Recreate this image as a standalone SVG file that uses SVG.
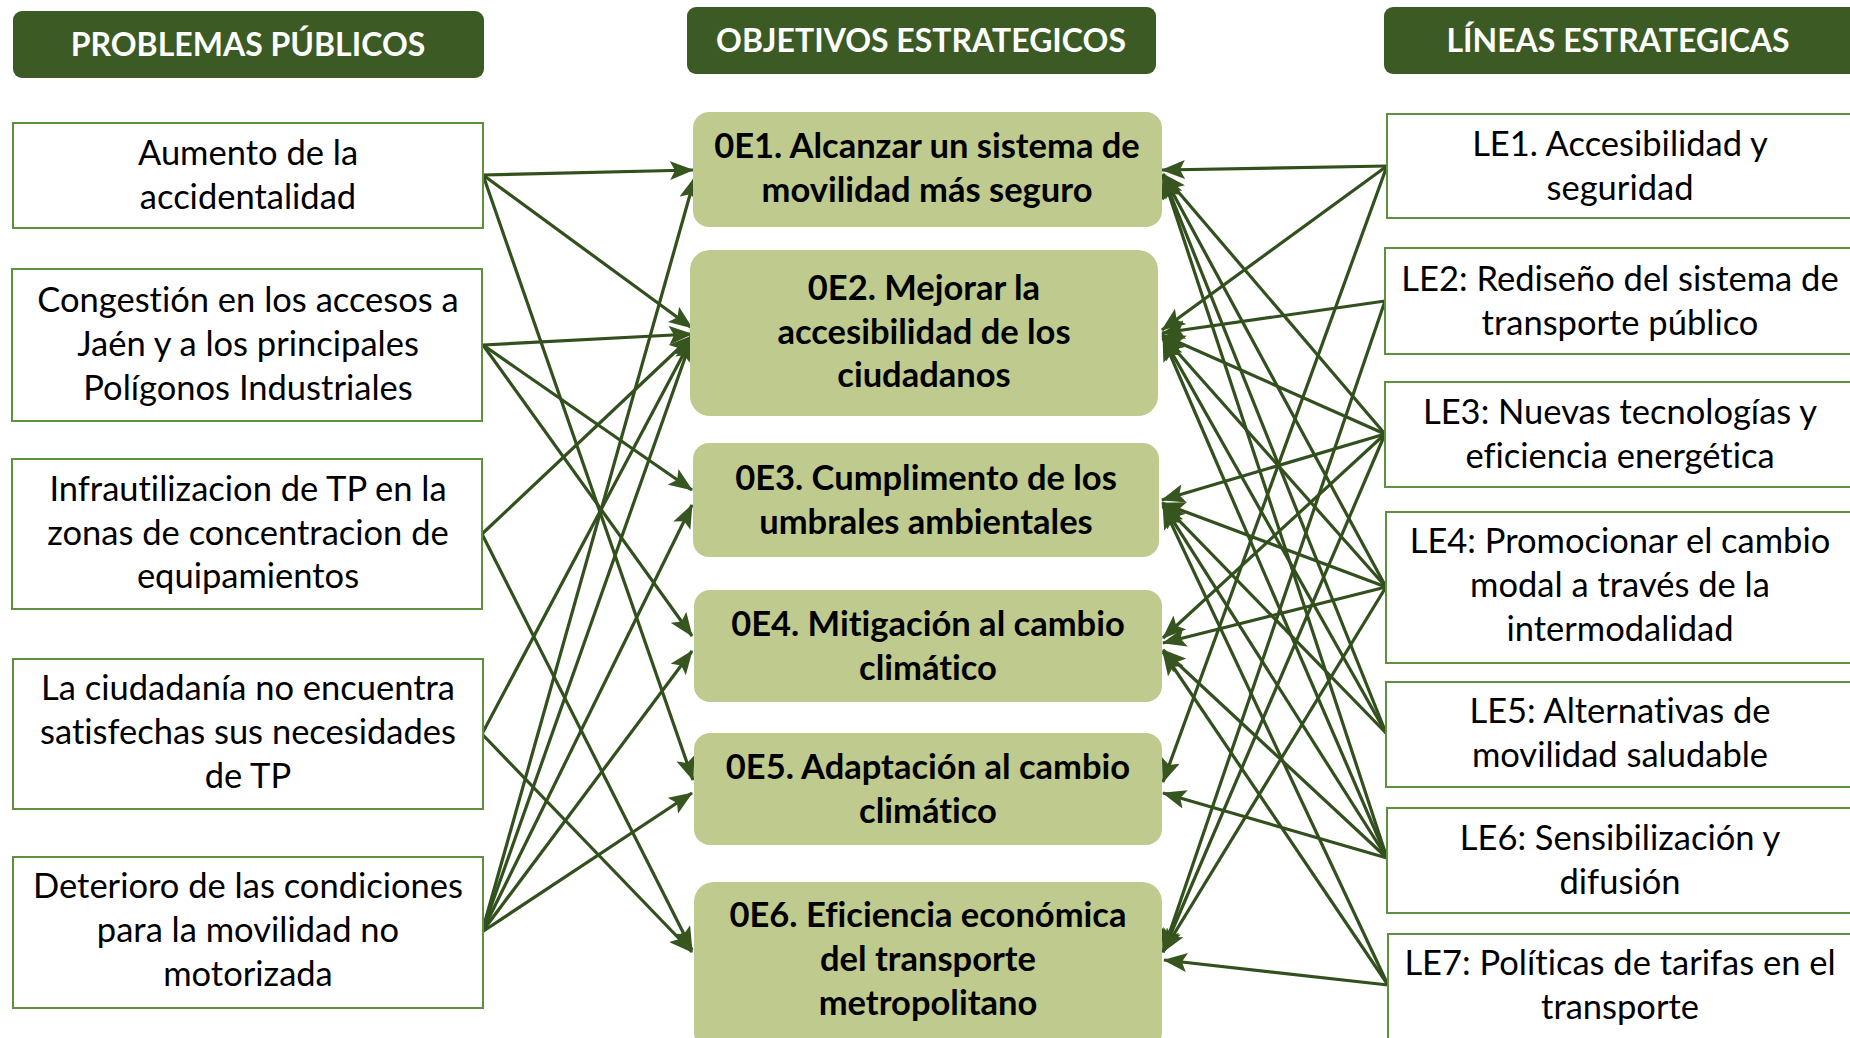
<svg xmlns="http://www.w3.org/2000/svg" width="1850" height="1038" viewBox="0 0 1850 1038">
<defs>
<marker id="ah" markerUnits="userSpaceOnUse" markerWidth="24" markerHeight="19" viewBox="0 0 24 19" refX="23" refY="9.5" orient="auto">
<path d="M0,0 L24,9.5 L0,19 L5,9.5 z" fill="#37561f"/>
</marker>
<style>
.hdr{fill:#3b5a24}
.ht{font-family:Lato,"Liberation Sans",sans-serif;font-weight:bold;font-size:32px;fill:#fff;text-anchor:middle}
.pb{fill:#fff;stroke:#5f9040;stroke-width:2}
.oe{fill:#bfca8e}
.t{font-family:Lato,"Liberation Sans",sans-serif;font-size:34.5px;fill:#000;text-anchor:middle;font-variant-ligatures:none;font-feature-settings:"liga" 0}
.b{font-weight:bold}
.c line{stroke:#32501d;stroke-width:3.2;marker-end:url(#ah)}
</style>
</defs>
<rect width="1850" height="1038" fill="#fff"/>

<g id="h-problemas"><rect class="hdr" x="13" y="11" width="471" height="67" rx="9"/><text class="ht" x="248" y="56">PROBLEMAS PÚBLICOS</text></g>
<g id="h-objetivos"><rect class="hdr" x="687" y="7" width="469" height="67" rx="9"/><text class="ht" x="921" y="52">OBJETIVOS ESTRATEGICOS</text></g>
<g id="h-lineas"><rect class="hdr" x="1384" y="7" width="480" height="67" rx="9"/><text class="ht" x="1618" y="52">LÍNEAS ESTRATEGICAS</text></g>

<g class="c" id="connectors">
<line x1="483" y1="175" x2="693" y2="170"/>
<line x1="483" y1="175" x2="692" y2="328"/>
<line x1="483" y1="175" x2="693" y2="780"/>
<line x1="483" y1="345" x2="692" y2="334"/>
<line x1="483" y1="345" x2="692" y2="490"/>
<line x1="483" y1="345" x2="692" y2="636"/>
<line x1="482" y1="534" x2="692" y2="336"/>
<line x1="482" y1="534" x2="692" y2="950"/>
<line x1="482" y1="734" x2="692" y2="338"/>
<line x1="482" y1="734" x2="692" y2="952"/>
<line x1="482" y1="932" x2="695" y2="177"/>
<line x1="482" y1="932" x2="692" y2="338"/>
<line x1="482" y1="932" x2="692" y2="505"/>
<line x1="482" y1="932" x2="692" y2="651"/>
<line x1="482" y1="932" x2="692" y2="793"/>

<line x1="1387" y1="166" x2="1162" y2="170"/>
<line x1="1387" y1="166" x2="1162" y2="330"/>
<line x1="1387" y1="166" x2="1163" y2="782"/>
<line x1="1385" y1="301" x2="1162" y2="333"/>
<line x1="1385" y1="301" x2="1163" y2="952"/>
<line x1="1385" y1="434" x2="1163" y2="174"/>
<line x1="1385" y1="434" x2="1162" y2="335"/>
<line x1="1385" y1="434" x2="1162" y2="500"/>
<line x1="1385" y1="434" x2="1163" y2="638"/>
<line x1="1385" y1="434" x2="1163" y2="952"/>
<line x1="1386" y1="587" x2="1163" y2="175"/>
<line x1="1386" y1="587" x2="1163" y2="336"/>
<line x1="1386" y1="587" x2="1162" y2="503"/>
<line x1="1386" y1="587" x2="1163" y2="643"/>
<line x1="1386" y1="587" x2="1163" y2="952"/>
<line x1="1386" y1="733" x2="1163" y2="176"/>
<line x1="1386" y1="733" x2="1163" y2="337"/>
<line x1="1386" y1="733" x2="1163" y2="504"/>
<line x1="1387" y1="858" x2="1163" y2="176"/>
<line x1="1387" y1="858" x2="1163" y2="338"/>
<line x1="1387" y1="858" x2="1163" y2="505"/>
<line x1="1387" y1="858" x2="1163" y2="650"/>
<line x1="1387" y1="858" x2="1163" y2="793"/>
<line x1="1388" y1="985" x2="1163" y2="506"/>
<line x1="1388" y1="985" x2="1163" y2="652"/>
<line x1="1388" y1="985" x2="1164" y2="960"/>
</g>

<g id="pp1"><rect class="pb" x="13" y="123" width="470" height="105"/><text class="t" x="248" y="165">Aumento de la</text><text class="t" x="248" y="209">accidentalidad</text></g>
<g id="pp2"><rect class="pb" x="12" y="269" width="470" height="152"/><text class="t" x="248" y="312">Congestión en los accesos a</text><text class="t" x="248" y="356">Jaén y a los principales</text><text class="t" x="248" y="400">Polígonos Industriales</text></g>
<g id="pp3"><rect class="pb" x="12" y="459" width="470" height="150"/><text class="t" x="248" y="501">Infrautilizacion de TP en la</text><text class="t" x="248" y="545">zonas de concentracion de</text><text class="t" x="248" y="588">equipamientos</text></g>
<g id="pp4"><rect class="pb" x="13" y="659" width="470" height="150"/><text class="t" x="248" y="700">La ciudadanía no encuentra</text><text class="t" x="248" y="744">satisfechas sus necesidades</text><text class="t" x="248" y="788">de TP</text></g>
<g id="pp5"><rect class="pb" x="13" y="857" width="470" height="151"/><text class="t" x="248" y="898">Deterioro de las condiciones</text><text class="t" x="248" y="942">para la movilidad no</text><text class="t" x="248" y="986">motorizada</text></g>

<g id="oe1"><rect class="oe" x="693" y="112" width="469" height="115" rx="16"/><text class="t b" x="927" y="158">0E1. Alcanzar un sistema de</text><text class="t b" x="927" y="202">movilidad más seguro</text></g>
<g id="oe2"><rect class="oe" x="690" y="250" width="468" height="166" rx="20"/><text class="t b" x="924" y="300">0E2. Mejorar la</text><text class="t b" x="924" y="344">accesibilidad de los</text><text class="t b" x="924" y="387">ciudadanos</text></g>
<g id="oe3"><rect class="oe" x="693" y="443" width="466" height="114" rx="16"/><text class="t b" x="926" y="490">0E3. Cumplimento de los</text><text class="t b" x="926" y="534">umbrales ambientales</text></g>
<g id="oe4"><rect class="oe" x="694" y="590" width="468" height="112" rx="16"/><text class="t b" x="928" y="636">0E4. Mitigación al cambio</text><text class="t b" x="928" y="680">climático</text></g>
<g id="oe5"><rect class="oe" x="694" y="733" width="468" height="112" rx="16"/><text class="t b" x="928" y="779">0E5. Adaptación al cambio</text><text class="t b" x="928" y="823">climático</text></g>
<g id="oe6"><rect class="oe" x="694" y="882" width="468" height="170" rx="20"/><text class="t b" x="928" y="927">0E6. Eficiencia económica</text><text class="t b" x="928" y="971">del transporte</text><text class="t b" x="928" y="1015">metropolitano</text></g>

<g id="le1"><rect class="pb" x="1387" y="114" width="475" height="104"/><text class="t" x="1620" y="156">LE1. Accesibilidad y</text><text class="t" x="1620" y="200">seguridad</text></g>
<g id="le2"><rect class="pb" x="1385" y="248" width="477" height="106"/><text class="t" x="1620" y="291">LE2: Rediseño del sistema de</text><text class="t" x="1620" y="335">transporte público</text></g>
<g id="le3"><rect class="pb" x="1385" y="382" width="477" height="105"/><text class="t" x="1620" y="424">LE3: Nuevas tecnologías y</text><text class="t" x="1620" y="468">eficiencia energética</text></g>
<g id="le4"><rect class="pb" x="1386" y="512" width="476" height="151"/><text class="t" x="1620" y="553">LE4: Promocionar el cambio</text><text class="t" x="1620" y="597">modal a través de la</text><text class="t" x="1620" y="641">intermodalidad</text></g>
<g id="le5"><rect class="pb" x="1386" y="682" width="476" height="105"/><text class="t" x="1620" y="723">LE5: Alternativas de</text><text class="t" x="1620" y="767">movilidad saludable</text></g>
<g id="le6"><rect class="pb" x="1387" y="808" width="475" height="105"/><text class="t" x="1620" y="850">LE6: Sensibilización y</text><text class="t" x="1620" y="894">difusión</text></g>
<g id="le7"><rect class="pb" x="1388" y="934" width="474" height="115"/><text class="t" x="1620" y="975">LE7: Políticas de tarifas en el</text><text class="t" x="1620" y="1019">transporte</text></g>
</svg>
